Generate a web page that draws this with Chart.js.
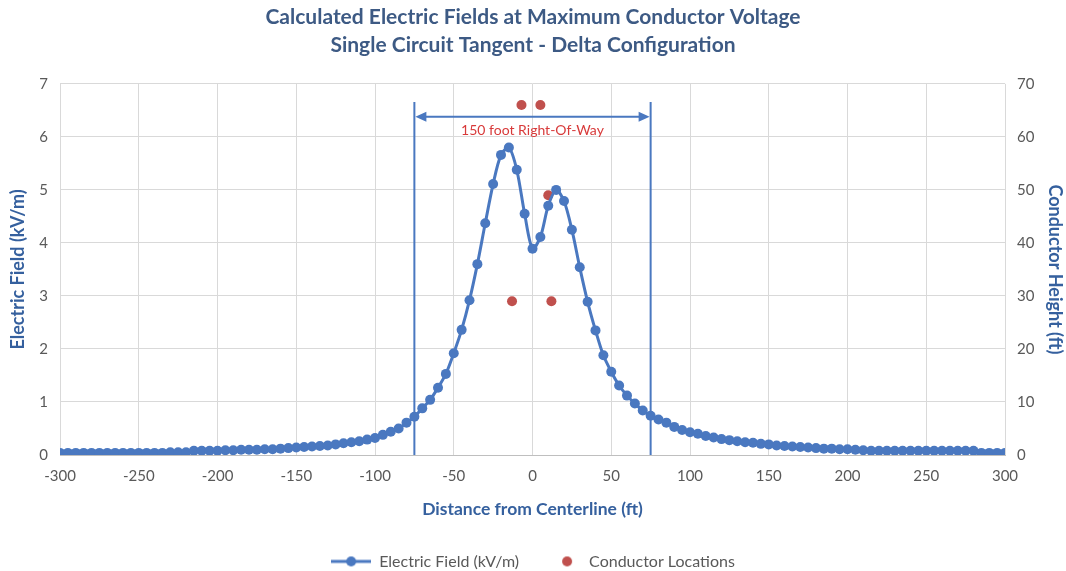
<!DOCTYPE html>
<html>
<head>
<meta charset="utf-8">
<script src="https://cdn.jsdelivr.net/npm/chart.js@4.4.1/dist/chart.umd.min.js"></script>
<style>
  html, body { margin: 0; padding: 0; background: #fff; }
  #wrap { width: 1066px; height: 571px; }
</style>
</head>
<body>
<div id="wrap"><canvas id="fieldChart" width="1066" height="571"></canvas></div>
<script>
// dati
const distanceFt = [];
for (let d = -300; d <= 300; d += 5) distanceFt.push(d);

const fieldKvm = [
  0.04, 0.04, 0.04, 0.04, 0.04, 0.04, 0.04, 0.04, 0.04, 0.04,
  0.04, 0.04, 0.04, 0.04, 0.05, 0.05, 0.05, 0.08, 0.08, 0.08,
  0.08, 0.09, 0.09, 0.10, 0.10, 0.10, 0.11, 0.11, 0.12, 0.13,
  0.14, 0.15, 0.16, 0.17, 0.18, 0.20, 0.22, 0.24, 0.26, 0.29,
  0.32, 0.38, 0.44, 0.50, 0.61, 0.72, 0.88, 1.04, 1.27, 1.53,
  1.92, 2.36, 2.92, 3.60, 4.37, 5.11, 5.66, 5.80, 5.38, 4.55,
  3.89, 4.11, 4.70, 5.00, 4.79, 4.25, 3.54, 2.89, 2.35, 1.88,
  1.57, 1.31, 1.12, 0.97, 0.84, 0.74, 0.67, 0.61, 0.53, 0.47,
  0.43, 0.40, 0.36, 0.33, 0.30, 0.28, 0.26, 0.24, 0.23, 0.21,
  0.20, 0.18, 0.17, 0.16, 0.15, 0.14, 0.13, 0.12, 0.12, 0.11,
  0.11, 0.10, 0.09, 0.08, 0.08, 0.08, 0.08, 0.08, 0.08, 0.08,
  0.08, 0.08, 0.08, 0.08, 0.08, 0.08, 0.08, 0.04, 0.04, 0.04,
  0.04
];

const conductorX = [-7, 5, 10, -13, 12];
const conductorHeightFt = [66, 66, 49, 29, 29];

const rowEdgesFt = [-75, 75];
const rowLabel = '150 foot Right-Of-Way';

const xTicks = [-300, 300, 50];
const leftTicks = [0, 7, 1];
const rightTicks = [0, 70, 10];

const blue = '#4a78c0';
const red = '#c0504d';
const titleBlue = '#3d5a84';
const axisBlue = '#35609e';
const grey = '#595959';
const fontName = 'Lato, "Open Sans", sans-serif';

const plotBottom = 455;   // fondo area grafico
const legendY = 559;      // centro riga legenda
const legendPad = 22;

// simbolo legenda: linea con punto
function legendIcon(withLine, color) {
  const c = document.createElement('canvas');
  c.width = 40; c.height = 12;
  const g = c.getContext('2d');
  if (withLine) {
    g.strokeStyle = color; g.lineWidth = 3;
    g.beginPath(); g.moveTo(0, 6); g.lineTo(40, 6); g.stroke();
    g.fillStyle = color;
    g.beginPath(); g.arc(20, 6, 5, 0, Math.PI * 2); g.fill();
  } else {
    g.fillStyle = color;
    g.beginPath(); g.arc(26, 6, 5, 0, Math.PI * 2); g.fill();
  }
  return c;
}

// fascia di rispetto: linee verticali, freccia e testo
const rowPlugin = {
  id: 'rowMarks',
  afterLayout(chart) {
    // sposta la legenda sulla riga giusta
    const lg = chart.legend;
    const dy = legendY - (lg.top + legendPad + 5.6);
    lg.top += dy; lg.bottom += dy;
  },
  beforeDatasetsDraw(chart) {
    const ctx = chart.ctx;
    const xs = chart.scales.x, ys = chart.scales.y;
    const xl = xs.getPixelForValue(rowEdgesFt[0]);
    const xr = xs.getPixelForValue(rowEdgesFt[1]);
    const yb = ys.getPixelForValue(0);
    const yt = ys.getPixelForValue(6.66);
    const ya = ys.getPixelForValue(6.38);
    ctx.save();
    ctx.strokeStyle = blue;
    ctx.fillStyle = blue;
    ctx.lineWidth = 2;
    ctx.beginPath();
    ctx.moveTo(xl, yb); ctx.lineTo(xl, yt);
    ctx.moveTo(xr, yb); ctx.lineTo(xr, yt);
    ctx.moveTo(xl + 8, ya); ctx.lineTo(xr - 8, ya);
    ctx.stroke();
    ctx.beginPath();
    ctx.moveTo(xl + 1, ya); ctx.lineTo(xl + 12, ya - 5); ctx.lineTo(xl + 12, ya + 5); ctx.closePath();
    ctx.moveTo(xr - 1, ya); ctx.lineTo(xr - 12, ya - 5); ctx.lineTo(xr - 12, ya + 5); ctx.closePath();
    ctx.fill();
    ctx.fillStyle = '#d83a3a';
    ctx.font = '14px ' + fontName;
    ctx.textAlign = 'center';
    ctx.textBaseline = 'middle';
    ctx.fillText(rowLabel, (xl + xr) / 2, ys.getPixelForValue(6.13));
    ctx.restore();
  }
};

const fieldPoints = distanceFt.map((d, i) => ({ x: d, y: fieldKvm[i] }));
const conductorPoints = conductorX.map((d, i) => ({ x: d, y: conductorHeightFt[i] }));

const ctx = document.getElementById('fieldChart').getContext('2d');
new Chart(ctx, {
  type: 'line',
  data: {
    datasets: [{
      label: 'Electric Field (kV/m)',
      data: fieldPoints,
      yAxisID: 'y',
      borderColor: blue,
      backgroundColor: blue,
      borderWidth: 3,
      pointRadius: 5,
      pointHoverRadius: 5,
      pointBorderWidth: 0,
      pointStyle: 'circle',
      tension: 0.3
    }, {
      label: 'Conductor Locations',
      type: 'scatter',
      data: conductorPoints,
      yAxisID: 'y2',
      showLine: false,
      borderColor: red,
      backgroundColor: red,
      pointRadius: 5,
      pointBorderWidth: 0
    }]
  },
  options: {
    responsive: false,
    animation: false,
    layout: { padding: 0 },
    plugins: {
      title: {
        display: true,
        text: ['Calculated Electric Fields at Maximum Conductor Voltage', 'Single Circuit Tangent - Delta Configuration'],
        color: titleBlue,
        font: { family: fontName, size: 21, weight: 'bold', lineHeight: 1.33 },
        padding: { top: 3, bottom: 25 }
      },
      legend: {
        position: 'bottom',
        labels: {
          color: grey,
          font: { family: fontName, size: 16 },
          usePointStyle: true,
          pointStyleWidth: 40,
          padding: legendPad,
          generateLabels(chart) {
            return chart.data.datasets.map((ds, i) => ({
              text: ds.label,
              fontColor: grey,
              pointStyle: legendIcon(i === 0, ds.borderColor),
              lineWidth: 0,
              strokeStyle: 'rgba(0,0,0,0)',
              fillStyle: ds.backgroundColor,
              datasetIndex: i
            }));
          }
        }
      },
      tooltip: { enabled: false }
    },
    scales: {
      x: {
        type: 'linear',
        min: xTicks[0], max: xTicks[1],
        ticks: { stepSize: xTicks[2], color: grey, font: { family: fontName, size: 15 }, padding: 12 },
        grid: { color: '#d9d9d9', drawTicks: false },
        border: { color: '#bfbfbf' },
        title: {
          display: true, text: 'Distance from Centerline (ft)', color: axisBlue,
          font: { family: fontName, size: 17.5, weight: 'bold' }, padding: { top: 4, bottom: 3.5 }
        },
        afterFit(scale) {
          scale.height = scale.chart.height - plotBottom - scale.chart.legend.height;
        }
      },
      y: {
        position: 'left',
        min: leftTicks[0], max: leftTicks[1],
        ticks: { stepSize: leftTicks[2], color: grey, font: { family: fontName, size: 15 }, padding: 12 },
        grid: { color: '#d9d9d9', drawTicks: false },
        border: { display: false },
        title: {
          display: true, text: 'Electric Field (kV/m)', color: axisBlue,
          font: { family: fontName, size: 18, weight: 'bold' }, padding: { top: 7, bottom: 0 }
        },
        afterFit(scale) { scale.width = 60; }
      },
      y2: {
        position: 'right',
        min: rightTicks[0], max: rightTicks[1],
        ticks: { stepSize: rightTicks[2], color: grey, font: { family: fontName, size: 15 }, padding: 12 },
        grid: { drawOnChartArea: false, drawTicks: false },
        border: { display: false },
        title: {
          display: true, text: 'Conductor Height (ft)', color: axisBlue,
          font: { family: fontName, size: 18, weight: 'bold' }, padding: { top: 0, bottom: 0 }
        },
        afterFit(scale) { scale.width = 61; }
      }
    }
  },
  plugins: [rowPlugin]
});
</script>
</body>
</html>
